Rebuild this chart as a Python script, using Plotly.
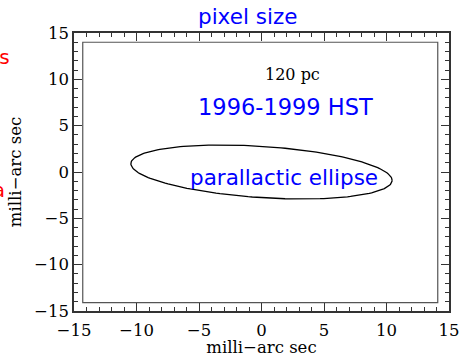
import numpy as np
import plotly.graph_objects as go

# --- data ---
axis_range = [-15, 15]
tick_vals = [-15, -10, -5, 0, 5, 10, 15]
tick_text = ["\u221215", "\u221210", "\u22125", "0", "5", "10", "15"]

# pixel-size box (mas)
box_x = [-14.3, 14.1]
box_y = [-14.1, 14.0]

# parallactic ellipse parameters (mas)
ell_a = 10.45      # x semi-extent
ell_b = 2.77       # y sine amplitude
ell_c = -0.9       # y cosine amplitude (tilt)
n_pts = 200

t = np.linspace(0, 2 * np.pi, n_pts)
ex = ell_a * np.cos(t)
ey = ell_b * np.sin(t) + ell_c * np.cos(t)

fig = go.Figure()
fig.add_trace(go.Scatter(x=ex, y=ey, mode="lines",
                         line=dict(color="black", width=1.3),
                         hoverinfo="skip", showlegend=False))

fig.add_shape(type="rect", x0=box_x[0], x1=box_x[1], y0=box_y[0], y1=box_y[1],
              line=dict(color="#555555", width=1.2), layer="below")

serif = "DejaVu Serif"
sans = "DejaVu Sans"

axis_common = dict(
    range=axis_range, tickvals=tick_vals, ticktext=tick_text, automargin=False,
    ticklabeloverflow="allow",
    showgrid=False, zeroline=False, showline=True, linecolor="#333333", linewidth=1.5,
    mirror="allticks", ticks="inside", ticklen=8, tickcolor="#333333", tickwidth=1,
    minor=dict(ticks="inside", dtick=1, ticklen=4, tickcolor="#333333", tickwidth=1),
    tickfont=dict(family=serif, size=16.5, color="black"),
    title=dict(text="milli\u2212arc sec", font=dict(family=serif, size=16.5, color="black")),
)

fig.update_xaxes(**axis_common)
fig.update_yaxes(**axis_common)
fig.update_xaxes(title_standoff=4, ticklabelstandoff=3)
fig.update_yaxes(title_standoff=8)

annots = [
    dict(text="pixel size", x=247, y=17, size=21.5, color="blue", family=sans),
    dict(text="120 pc", x=292, y=75, size=16, color="black", family=serif),
    dict(text="1996-1999 HST", x=285, y=107, size=22.5, color="blue", family=sans),
    dict(text="parallactic ellipse", x=284, y=177, size=21.5, color="blue", family=sans),
]
W, H = 459, 357
for a in annots:
    fig.add_annotation(text=a["text"], xref="paper", yref="paper",
                       x=(a["x"] - 74) / (449 - 74), y=(311 - a["y"]) / (311 - 33),
                       xanchor="center", yanchor="middle", showarrow=False,
                       font=dict(family=a["family"], size=a["size"], color=a["color"]))

# clipped red labels at the left edge
fig.add_annotation(text="pixels", xref="paper", yref="paper",
                   x=(12 - 74) / (449 - 74), y=(311 - 57) / (311 - 33),
                   xanchor="right", yanchor="middle", showarrow=False,
                   font=dict(family=sans, size=20, color="red"))
fig.add_annotation(text="data", xref="paper", yref="paper",
                   x=(7 - 74) / (449 - 74), y=(311 - 190) / (311 - 33),
                   xanchor="right", yanchor="middle", showarrow=False,
                   font=dict(family=sans, size=20, color="red"))

fig.update_layout(
    width=W, height=H,
    margin=dict(l=74, r=10, t=33, b=46),
    paper_bgcolor="white", plot_bgcolor="white",
    showlegend=False,
)

fig.write_html("out.html")
